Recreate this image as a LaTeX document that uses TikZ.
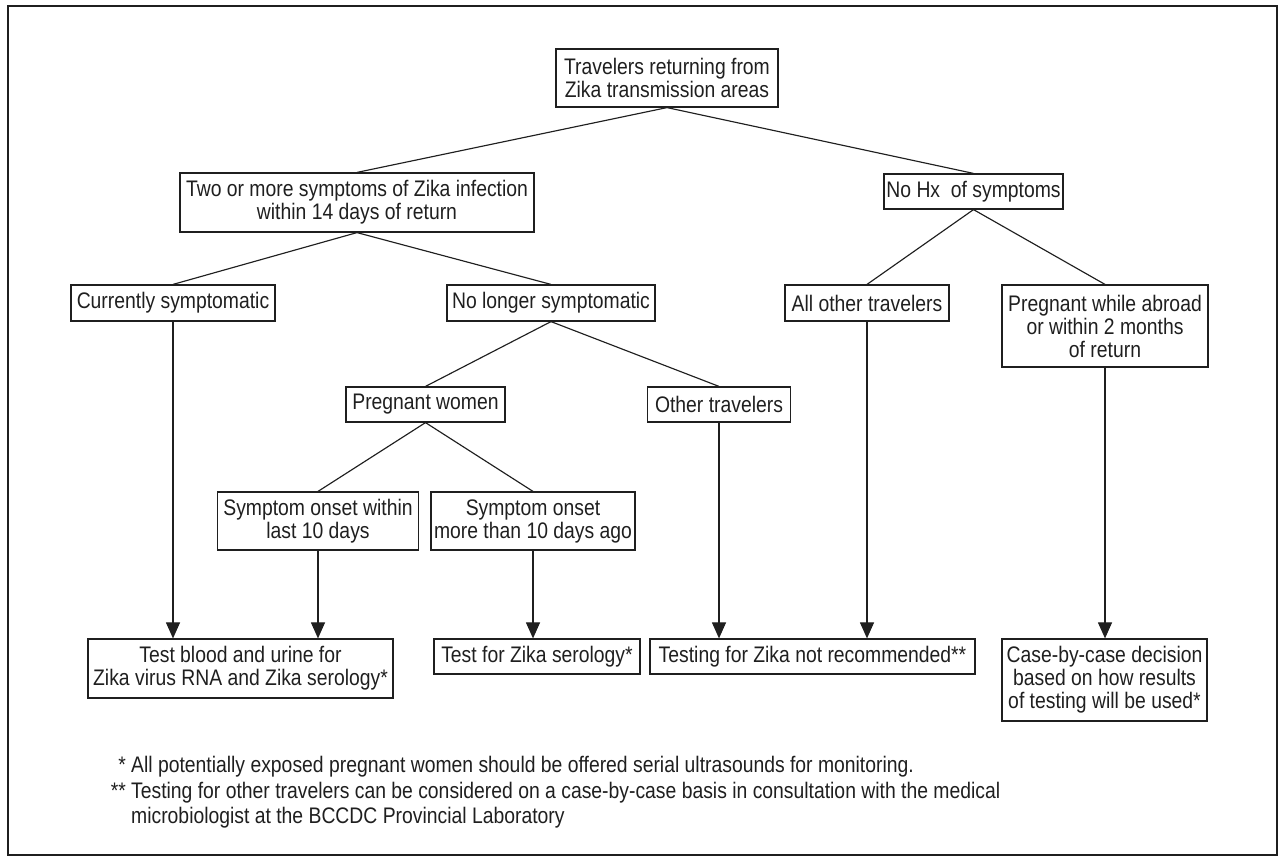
\documentclass[tikz,border=0pt]{standalone}
\usepackage{fontspec}
\setmainfont{Liberation Sans}[FakeStretch=0.86]
\usetikzlibrary{arrows.meta}
\begin{document}
\begin{tikzpicture}[x=1pt,y=-1pt,
  ink/.style={draw=black!88},
  box/.style={ink, line width=1.2pt, inner sep=0pt, align=center,
    font=\fontsize{22.5}{23}\selectfont, text=black!88},
  conn/.style={ink, line width=1.15pt},
  arr/.style={ink, line width=1.15pt, -{Triangle[length=16pt,width=14pt]}},
  note/.style={inner sep=0pt, anchor=base west, font=\fontsize{22.5}{25}\selectfont, text=black!88}
]
\useasboundingbox (0,0) rectangle (1279,859);
\draw[ink, line width=1.2pt] (8,6) rectangle (1277,855);

% level 0
\node[box, minimum width=222pt, minimum height=58pt] (top) at (667,78) {Travelers returning from\\Zika transmission areas};
% level 1
\node[box, minimum width=354pt, minimum height=59pt] (two) at (357,202.5) {Two or more symptoms of Zika infection\\within 14 days of return};
\node[box, minimum width=179pt, minimum height=35pt] (nohx) at (973.5,191.5) {No Hx\ \ of symptoms};
% level 2
\node[box, minimum width=204pt, minimum height=36pt] (cur) at (173,303) {Currently symptomatic};
\node[box, minimum width=208pt, minimum height=36pt] (nolonger) at (551,303) {No longer symptomatic};
\node[box, minimum width=164pt, minimum height=36pt] (allother) at (867,303) {All other travelers};
\node[box, minimum width=206pt, minimum height=82pt] (pregab) at (1105,326) {Pregnant while abroad\\or within 2 months\\of return};
% level 3
\node[box, minimum width=159pt, minimum height=35pt] (pw) at (425.5,404.5) {Pregnant women};
\node[box, minimum width=143pt, minimum height=35pt] (other) at (719,404.5) {Other travelers};
% level 4
\node[box, minimum width=201pt, minimum height=58pt] (within) at (318,521) {Symptom onset within\\last 10 days};
\node[box, minimum width=204pt, minimum height=58pt] (more) at (533,521) {Symptom onset\\more than 10 days ago};
% outcomes
\node[box, minimum width=305pt, minimum height=59pt] (blood) at (240.5,668.5) {Test blood and urine for\\Zika virus RNA and Zika serology*};
\node[box, minimum width=206pt, minimum height=35pt] (sero) at (537,656.5) {Test for Zika serology*};
\node[box, minimum width=325pt, minimum height=35pt] (notrec) at (812.5,656.5) {Testing for Zika not recommended**};
\node[box, minimum width=205pt, minimum height=82pt] (case) at (1104.5,680) {Case-by-case decision\\based on how results\\of testing will be used*};

% tree connectors
\draw[conn] (top.south) -- (two.north);
\draw[conn] (top.south) -- (nohx.north);
\draw[conn] (two.south) -- (cur.north);
\draw[conn] (two.south) -- (nolonger.north);
\draw[conn] (nohx.south) -- (allother.north);
\draw[conn] (nohx.south) -- (pregab.north);
\draw[conn] (nolonger.south) -- (pw.north);
\draw[conn] (nolonger.south) -- (other.north);
\draw[conn] (pw.south) -- (within.north);
\draw[conn] (pw.south) -- (more.north);

% arrows to outcomes
\draw[arr] (cur.south) -- (cur.south |- blood.north);
\draw[arr] (within.south) -- (within.south |- blood.north);
\draw[arr] (more.south) -- (more.south |- sero.north);
\draw[arr] (other.south) -- (other.south |- notrec.north);
\draw[arr] (allother.south) -- (allother.south |- notrec.north);
\draw[arr] (pregab.south) -- (pregab.south |- case.north);

% footnotes
\node[note] (fn1) at (131,772) {\llap{*\ }All potentially exposed pregnant women should be offered serial ultrasounds for monitoring.};
\node[note] (fn2) at (131,798) {\llap{**\ }Testing for other travelers can be considered on a case-by-case basis in consultation with the medical};
\node[note] (fn3) at (131,823) {microbiologist at the BCCDC Provincial Laboratory};
\end{tikzpicture}
\end{document}
